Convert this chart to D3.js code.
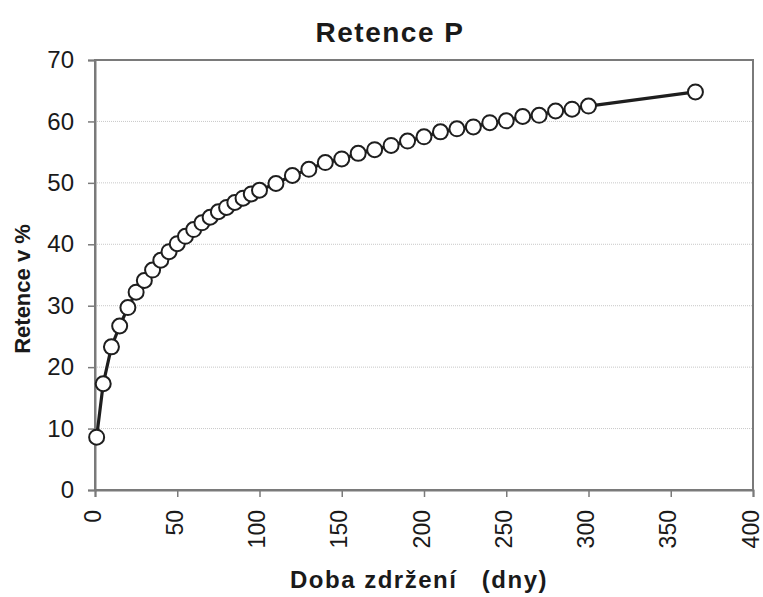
<!DOCTYPE html>
<html>
<head>
<meta charset="utf-8">
<script src="https://cdn.jsdelivr.net/npm/d3@7"></script>
<style>
	body { margin: 0; background: #fff; }
	svg { display: block; font-family: Arial, 'Liberation Sans', sans-serif; }
</style>
</head>
<body>
<script>
// doba zdrzeni (dny) a retence P (%)
var days = [1, 5, 10, 15, 20, 25, 30, 35, 40, 45, 50, 55, 60, 65, 70, 75, 80, 85, 90, 95, 100,
	110, 120, 130, 140, 150, 160, 170, 180, 190, 200, 210, 220, 230, 240, 250, 260, 270, 280, 290, 300, 365];
var retention = [8.6, 17.3, 23.3, 26.7, 29.7, 32.2, 34.1, 35.8, 37.4, 38.8, 40.1, 41.3, 42.4, 43.5, 44.4, 45.3, 46.0, 46.8, 47.5, 48.2, 48.8,
	49.9, 51.2, 52.2, 53.3, 53.9, 54.8, 55.4, 56.1, 56.8, 57.5, 58.3, 58.8, 59.1, 59.8, 60.1, 60.8, 61.0, 61.7, 62.0, 62.5, 64.8];
var xTicks = [0, 50, 100, 150, 200, 250, 300, 350, 400];
var yTicks = [0, 10, 20, 30, 40, 50, 60, 70];

var width = 763, height = 597;
var plotLeft = 95, plotRight = 753, plotTop = 60, plotBottom = 490;

var svg = d3.select('body').append('svg')
	.attr('width', width)
	.attr('height', height);

var x = d3.scaleLinear().domain([0, 400]).range([plotLeft, plotRight]);
var y = d3.scaleLinear().domain([0, 70]).range([plotBottom, plotTop]);

// gridlines
svg.append('g').selectAll('line').data(yTicks.slice(1, -1)).enter().append('line')
	.attr('x1', plotLeft).attr('x2', plotRight)
	.attr('y1', function (d) { return y(d); })
	.attr('y2', function (d) { return y(d); })
	.attr('stroke', '#c8c8c8')
	.attr('stroke-width', 1)
	.attr('stroke-dasharray', '1,1');

// plot frame
svg.append('rect')
	.attr('x', plotLeft).attr('y', y(70))
	.attr('width', plotRight - plotLeft).attr('height', plotBottom - y(70))
	.attr('fill', 'none')
	.attr('stroke', '#7a7a7a')
	.attr('stroke-width', 2);

// y axis
var yAxis = d3.axisLeft(y).tickValues(yTicks).tickSize(7).tickPadding(14);
var yAxisEl = svg.append('g')
	.attr('transform', 'translate(' + plotLeft + ',0)')
	.call(yAxis);
yAxisEl.select('.domain').attr('stroke', '#7a7a7a').attr('stroke-width', 2);
yAxisEl.selectAll('.tick line').attr('stroke', '#7a7a7a').attr('stroke-width', 1.5);
yAxisEl.selectAll('.tick text')
	.attr('font-size', 24)
	.attr('fill', '#1a1a1a')
	.attr('font-family', 'Arial, Liberation Sans, sans-serif');

// x axis
var xAxis = d3.axisBottom(x).tickValues(xTicks).tickSize(7);
var xAxisEl = svg.append('g')
	.attr('transform', 'translate(0,' + plotBottom + ')')
	.call(xAxis);
xAxisEl.select('.domain').attr('stroke', '#7a7a7a').attr('stroke-width', 2);
xAxisEl.selectAll('.tick line').attr('stroke', '#7a7a7a').attr('stroke-width', 1.5);
xAxisEl.selectAll('.tick text')
	.attr('font-size', 23)
	.attr('fill', '#1a1a1a')
	.attr('font-family', 'Arial, Liberation Sans, sans-serif')
	.attr('transform', 'rotate(-90)')
	.attr('text-anchor', 'end')
	.attr('x', -20)
	.attr('y', 0)
	.attr('dy', '0.22em');

// line
var pts = days.map(function (d, i) { return [d, retention[i]]; });
var line = d3.line()
	.x(function (d) { return x(d[0]); })
	.y(function (d) { return y(d[1]); });
svg.append('path')
	.datum(pts)
	.attr('d', line)
	.attr('fill', 'none')
	.attr('stroke', '#1e1e1e')
	.attr('stroke-width', 3.2)
	.attr('stroke-linejoin', 'round');

// markers
svg.append('g').selectAll('circle').data(pts).enter().append('circle')
	.attr('cx', function (d) { return x(d[0]); })
	.attr('cy', function (d) { return y(d[1]); })
	.attr('r', 7.5)
	.attr('fill', '#fff')
	.attr('stroke', '#1e1e1e')
	.attr('stroke-width', 2);

// titles
svg.append('text')
	.attr('x', 390).attr('y', 42)
	.attr('text-anchor', 'middle')
	.attr('font-size', 28)
	.attr('font-weight', 'bold')
	.attr('letter-spacing', 1.5)
	.attr('fill', '#1a1a1a')
	.text('Retence P');

svg.append('text')
	.attr('transform', 'translate(30,289) rotate(-90)')
	.attr('text-anchor', 'middle')
	.attr('font-size', 22)
	.attr('font-weight', 'bold')
	.attr('fill', '#1a1a1a')
	.text('Retence v %');

svg.append('text')
	.attr('x', 419).attr('y', 588)
	.attr('text-anchor', 'middle')
	.attr('font-size', 24)
	.attr('font-weight', 'bold')
	.attr('letter-spacing', 1.5)
	.attr('fill', '#1a1a1a')
	.style('white-space', 'pre')
	.text('Doba zdržení   (dny)');
</script>
</body>
</html>
